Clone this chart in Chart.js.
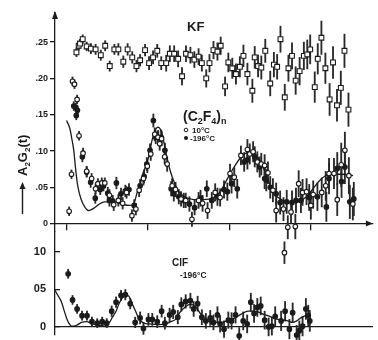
<!DOCTYPE html>
<html>
<head>
<meta charset="utf-8">
<script src="https://cdn.jsdelivr.net/npm/chart.js@4.4.1/dist/chart.umd.min.js"></script>
<style>
  html, body { margin: 0; padding: 0; background: #fff; }
  .chart-box { position: relative; width: 378px; height: 340px; }
</style>
</head>
<body>
<div class="chart-box"><canvas id="chart"></canvas></div>
<script>
// time axis is unlabeled in the figure; one tick every 10 units
const xTicks = [0, 10, 20, 30];
const topTicks = [0, 0.05, 0.10, 0.15, 0.20, 0.25];
const bottomTicks = [0, 0.05, 0.10];

// KF (open squares)
const kfX = [
  1.18, 1.46, 1.62, 1.95, 2.44, 2.96, 3.54, 4.18, 4.72, 5.28,
  5.85, 6.34, 6.95, 7.48, 8.05, 8.57, 9.02, 9.63, 10.12, 10.61,
  11.13, 11.62, 12.23, 12.68, 13.21, 13.70, 14.18, 14.67, 15.21, 15.70,
  16.22, 16.62, 17.16, 17.56, 18.05, 18.54, 18.94, 19.48, 19.88, 20.37,
  20.82, 21.30, 21.74, 22.23, 22.84, 23.13, 23.54, 23.94, 24.43, 25.04,
  25.49, 25.89, 26.30, 26.83, 27.28, 27.72, 28.17, 28.66, 29.18, 29.60,
  29.96, 30.52, 30.89, 31.34, 31.83, 32.35, 32.77, 33.26, 33.73, 34.18,
  34.67
];
const kfY = [
  .236, .245, .248, .254, .244, .241, .240, .232, .245, .217,
  .240, .240, .223, .240, .229, .217, .225, .239, .221, .229,
  .238, .221, .221, .234, .234, .227, .203, .234, .232, .226,
  .230, .221, .200, .221, .239, .237, .245, .189, .222, .214,
  .206, .216, .231, .206, .183, .229, .217, .215, .238, .193,
  .219, .216, .254, .174, .214, .231, .197, .210, .231, .233,
  .240, .188, .227, .256, .214, .171, .222, .163, .187, .238,
  .157
];
const kfErr = [
  .006, .006, .006, .006, .006, .007, .007, .007, .007, .007,
  .007, .008, .008, .008, .008, .008, .008, .008, .009, .009,
  .009, .009, .011, .011, .011, .011, .012, .011, .011, .011,
  .011, .011, .012, .012, .012, .012, .012, .013, .013, .014,
  .014, .014, .015, .015, .016, .015, .015, .016, .016, .017,
  .017, .017, .018, .018, .018, .018, .019, .019, .019, .020,
  .020, .021, .021, .023, .021, .022, .022, .022, .023, .023,
  .023
];

// (C2F4)n at 10 C (open circles)
const warmX = [
  0.28, 0.57, 0.70, 0.94, 1.26, 1.50, 1.99, 2.44, 3.05, 3.54,
  3.82, 4.30, 4.67, 5.24, 5.77, 6.34, 6.87, 7.35, 8.01, 8.50,
  8.90, 9.43, 9.91, 10.33, 10.82, 11.22, 11.43, 11.67, 12.04, 12.35,
  12.96, 13.38, 14.06, 14.63, 15.40, 16.22, 16.71, 17.32, 18.26, 18.87,
  20.09, 20.61, 21.43, 22.23, 22.52, 22.93, 23.45, 23.94, 24.35, 24.76,
  25.37, 25.77, 26.67, 26.79, 27.20, 27.60, 28.13, 28.54, 29.02, 29.51,
  30.04, 30.33, 31.38, 31.87, 32.28, 32.89, 33.29, 33.78, 34.23, 34.72,
  35.21
];
const warmY = [
  .017, .068, .196, .192, .171, .121, .097, .072, .062, .048,
  .055, .056, .056, .039, .026, .032, .028, .043, .011, .020,
  .046, .062, .079, .096, .123, .119, .110, .117, .092, .082,
  .052, .047, .034, .032, .006, .032, .028, .018, .043, .036,
  .069, .064, .094, .102, .096, .099, .085, .082, .080, .070,
  .046, .018, .020, -.040, -.005, .016, -.004, .055, .043, .044,
  .025, .040, .043, .052, .069, .069, .033, .081, .101, .066,
  .027
];
const warmErr = [
  .006, .006, .006, .006, .006, .006, .007, .007, .007, .007,
  .007, .007, .007, .008, .008, .008, .008, .008, .008, .008,
  .009, .009, .009, .009, .009, .009, .009, .010, .010, .010,
  .010, .010, .010, .010, .010, .011, .011, .011, .012, .012,
  .013, .013, .013, .014, .014, .014, .014, .015, .015, .015,
  .016, .016, .016, .015, .016, .016, .017, .018, .018, .018,
  .019, .019, .020, .020, .021, .021, .022, .030, .025, .025,
  .022
];

// (C2F4)n at -196 C (filled circles)
const coldX = [
  0.85, 1.10, 1.16, 1.30, 1.91, 2.44, 2.93, 3.50, 4.11, 4.51,
  5.04, 5.24, 5.65, 6.10, 6.67, 7.20, 7.65, 8.29, 9.02, 9.51,
  9.84, 10.24, 10.65, 10.94, 11.26, 11.62, 12.07, 12.84, 13.17, 13.78,
  14.39, 15.09, 15.73, 16.46, 17.23, 17.84, 18.54, 19.35, 19.76, 20.28,
  20.98, 21.83, 22.23, 23.13, 23.74, 24.35, 24.55, 25.04, 25.77, 26.26,
  27.07, 27.72, 28.21, 28.82, 29.84, 30.85, 31.95, 32.28, 33.29, 33.82,
  34.23, 34.84, 35.33
];
const coldY = [
  .162, .160, .149, .156, .092, .071, .057, .035, .047, .052,
  .042, .032, .031, .056, .041, .045, .047, .025, .052, .065,
  .082, .101, .142, .119, .119, .119, .101, .048, .041, .037,
  .032, .027, .022, .035, .048, .032, .037, .047, .044, .055,
  .048, .085, .088, .092, .078, .062, .060, .050, .041, .029,
  .030, .029, .032, .032, .036, .037, .023, .062, .076, .058,
  .078, .030, .034
];
const coldErr = [
  .006, .006, .006, .006, .007, .007, .007, .007, .007, .007,
  .008, .008, .008, .008, .008, .008, .008, .008, .009, .009,
  .009, .009, .009, .009, .009, .010, .010, .010, .010, .010,
  .010, .010, .010, .011, .011, .011, .012, .012, .012, .013,
  .013, .013, .013, .014, .014, .014, .015, .015, .015, .016,
  .016, .016, .017, .017, .018, .019, .020, .021, .022, .022,
  .023, .023, .023
];

// fitted curve through (C2F4)n
const fitX = [
  -0.04, 0.37, 0.61, 0.85, 1.10, 1.34, 1.71, 2.20, 2.68, 3.29,
  4.02, 4.63, 5.24, 5.85, 6.46, 7.07, 7.68, 8.17, 8.66, 9.15,
  9.63, 10.12, 10.49, 10.85, 11.22, 11.59, 11.95, 12.32, 12.80, 13.29,
  13.78, 14.51, 15.61, 16.83, 18.05, 18.90, 19.63, 20.49, 21.34, 22.07,
  22.80, 23.54, 24.27, 25.00, 25.73, 26.59, 27.44, 28.41, 29.39, 30.24,
  31.10, 31.83, 32.68, 33.90, 35.24
];
const fitY = [
  .142, .131, .117, .101, .073, .052, .035, .023, .018, .021,
  .027, .030, .030, .030, .028, .026, .025, .026, .043, .059,
  .077, .094, .115, .128, .133, .128, .112, .091, .070, .055,
  .044, .037, .033, .033, .036, .044, .059, .076, .090, .097,
  .098, .091, .075, .054, .039, .032, .029, .030, .036, .047,
  .059, .066, .068, .068, .066
];

// ClF at -196 C (lower panel)
const clfX = [
  0.16, 0.70, 1.26, 1.87, 2.48, 3.09, 3.74, 4.35, 4.91, 5.52,
  6.06, 6.67, 7.20, 7.80, 8.41, 9.02, 9.43, 10.04, 10.52, 11.13,
  11.67, 12.07, 12.65, 13.09, 13.66, 14.09, 14.63, 15.21, 15.61, 16.10,
  16.62, 17.11, 17.65, 18.05, 18.54, 18.87, 19.35, 19.88, 20.28, 20.77,
  21.22, 21.71, 22.20, 22.65, 23.05, 23.45, 23.87, 24.35, 24.84, 25.24,
  25.65, 26.38, 26.87, 27.40, 27.80, 28.29, 28.62, 29.02, 29.43, 29.72,
  29.91
];
const clfY = [
  .071, .036, .024, .015, .015, .007, .005, .007, .005, .021,
  .033, .042, .043, .031, .006, .012, -.002, .010, .010, .007,
  .021, .005, .016, .020, .013, .030, .034, .035, .024, .031,
  .013, .008, .012, .006, .016, .004, -.003, .009, .008, .016,
  -.012, .008, .004, .033, .018, .026, .028, .009, .000, .001,
  .014, .008, .021, -.003, .019, -.011, -.005, .001, .024, .015,
  .008
];
const clfErr = [
  .006, .006, .006, .006, .006, .006, .006, .006, .006, .007,
  .007, .007, .007, .007, .007, .008, .008, .008, .008, .008,
  .008, .008, .009, .009, .009, .009, .009, .010, .010, .010,
  .010, .010, .010, .010, .011, .011, .011, .011, .011, .011,
  .012, .012, .012, .012, .012, .012, .012, .012, .012, .012,
  .013, .013, .013, .013, .013, .013, .013, .013, .014, .014,
  .014
];
const clfFitX = [
  -1.46, -1.10, -0.65, -0.37, -0.04, 0.24, 0.57, 0.85, 1.34, 1.79,
  2.40, 3.21, 4.02, 4.76, 5.24, 5.61, 6.06, 6.46, 6.87, 7.20,
  7.48, 7.80, 8.09, 8.54, 8.90, 9.51, 10.12, 11.34, 12.16, 12.80,
  13.38, 13.90, 14.60, 15.21, 15.85, 16.62, 17.20, 17.84, 19.06, 19.88,
  20.70, 21.46, 22.32, 22.93, 23.54, 24.15, 24.76, 25.98, 27.20, 27.80,
  28.29, 28.82, 29.39, 29.84
];
const clfFitY = [
  .049, .042, .033, .023, .012, .005, .001, .001, .003, .006,
  .007, .004, .002, .003, .006, .013, .021, .032, .039, .042,
  .042, .038, .030, .019, .010, .005, .004, .003, .004, .007,
  .010, .019, .027, .030, .027, .015, .009, .006, .006, .009,
  .012, .017, .021, .021, .020, .017, .015, .010, .008, .006,
  .008, .012, .015, .017
];

const INK = '#1b1b1b';
const FONT = '"Liberation Sans", Arial, sans-serif';

const pts = (xs, ys) => xs.map((x, i) => ({ x, y: ys[i] }));
const errBars = (xs, ys, es) => xs.map((x, i) => ({ x, y: [ys[i] - es[i], ys[i] + es[i]] }));

function errorSet(xs, ys, es, yAxisID) {
  return {
    type: 'bar', data: errBars(xs, ys, es), yAxisID, xAxisID: 'x',
    backgroundColor: '#2a2a2a', borderWidth: 0, barThickness: 1.2,
    grouped: false, clip: false, order: 2
  };
}
function markerSet(xs, ys, yAxisID, style, radius, fill) {
  return {
    type: 'scatter', data: pts(xs, ys), yAxisID, xAxisID: 'x',
    pointStyle: style, pointRadius: radius, pointBorderWidth: 1.1,
    pointBorderColor: INK, pointBackgroundColor: fill, clip: false, order: 0
  };
}
function fitSet(xs, ys, yAxisID) {
  return {
    type: 'line', data: pts(xs, ys), yAxisID, xAxisID: 'x',
    borderColor: INK, borderWidth: 1.3, pointRadius: 0,
    cubicInterpolationMode: 'monotone', fill: false, clip: false, order: 1
  };
}

// rich text with subscripts: parts = [[text, isSub], ...]
function drawRich(ctx, parts, x, y, size) {
  let cx = x;
  parts.forEach(([t, sub]) => {
    const s = sub ? Math.round(size * 0.62) : size;
    ctx.font = `bold ${s}px ${FONT}`;
    ctx.fillText(t, cx, sub ? y + size * 0.22 : y);
    cx += ctx.measureText(t).width;
  });
}

const figureText = {
  id: 'figureText',
  afterDraw(chart) {
    const { ctx, chartArea: area } = chart;
    const zeroTop = chart.scales.yTop.getPixelForValue(0);
    ctx.save();
    ctx.fillStyle = INK;
    ctx.strokeStyle = INK;
    ctx.textBaseline = 'alphabetic';

    // axis arrowheads
    ctx.beginPath();
    ctx.moveTo(area.right, zeroTop);
    ctx.lineTo(area.right - 7, zeroTop - 3);
    ctx.lineTo(area.right - 7, zeroTop + 3);
    ctx.closePath();
    ctx.fill();
    ctx.beginPath();
    ctx.moveTo(area.left, area.top - 2);
    ctx.lineTo(area.left - 3, area.top + 6);
    ctx.lineTo(area.left + 3, area.top + 6);
    ctx.closePath();
    ctx.fill();

    // panel labels
    ctx.font = `bold 13px ${FONT}`;
    ctx.fillText('KF', 187, 31);
    drawRich(ctx, [['(C', false], ['2', true], ['F', false], ['4', true], [')', false], ['n', true]], 183, 121, 14);

    ctx.font = `bold 8px ${FONT}`;
    ctx.fillText('10°C', 192, 133);
    ctx.fillText('-196°C', 190, 141);
    ctx.lineWidth = 1;
    ctx.beginPath();
    ctx.arc(186, 130, 1.8, 0, Math.PI * 2);
    ctx.stroke();
    ctx.beginPath();
    ctx.arc(186, 138, 2, 0, Math.PI * 2);
    ctx.fill();

    ctx.font = `bold 10px ${FONT}`;
    ctx.fillText('ClF', 172, 266);
    ctx.font = `bold 8.5px ${FONT}`;
    ctx.fillText('-196°C', 180, 278);

    // rotated y title with arrow
    ctx.translate(22, 214);
    ctx.rotate(-Math.PI / 2);
    ctx.lineWidth = 1.4;
    ctx.beginPath();
    ctx.moveTo(0, 0.5);
    ctx.lineTo(26, 0.5);
    ctx.stroke();
    ctx.beginPath();
    ctx.moveTo(32, 0.5);
    ctx.lineTo(25, -2.5);
    ctx.lineTo(25, 3.5);
    ctx.closePath();
    ctx.fill();
    drawRich(ctx, [['A', false], ['2', true], ['G', false], ['2', true], ['(t)', false]], 38, 5, 13);
    ctx.restore();
  }
};

const X_MIN = -1.46, X_MAX = 37.68;

const fixedWidth = s => { s.width = 55; s.paddingTop = 0; s.paddingBottom = 0; };

new Chart(document.getElementById('chart'), {
  type: 'scatter',
  data: {
    datasets: [
      errorSet(kfX, kfY, kfErr, 'yTop'),
      errorSet(warmX, warmY, warmErr, 'yTop'),
      errorSet(coldX, coldY, coldErr, 'yTop'),
      errorSet(clfX, clfY, clfErr, 'yBot'),
      fitSet(fitX, fitY, 'yTop'),
      fitSet(clfFitX, clfFitY, 'yBot'),
      markerSet(kfX, kfY, 'yTop', 'rect', 3.4, '#fff'),
      markerSet(warmX, warmY, 'yTop', 'circle', 2.3, '#fff'),
      markerSet(coldX, coldY, 'yTop', 'circle', 2.3, INK),
      markerSet(clfX, clfY, 'yBot', 'circle', 2.3, INK)
    ]
  },
  options: {
    responsive: true,
    maintainAspectRatio: false,
    animation: false,
    events: [],
    layout: { padding: { top: 13, right: 2, bottom: 0, left: 0 } },
    plugins: { legend: { display: false }, tooltip: { enabled: false } },
    scales: {
      x: {
        type: 'linear', axis: 'x', min: X_MIN, max: X_MAX, offset: false,
        position: { yTop: 0 },
        border: { color: INK, width: 1.3 },
        grid: { offset: false, drawOnChartArea: false, tickLength: 6, color: INK, lineWidth: 1.3 },
        ticks: { display: false },
        afterBuildTicks: s => { s.ticks = xTicks.map(v => ({ value: v })); }
      },
      x2: {
        type: 'linear', axis: 'x', min: X_MIN, max: X_MAX, offset: false,
        position: { yBot: 0 },
        border: { color: INK, width: 1.2 },
        grid: { offset: false, drawOnChartArea: false, drawTicks: false },
        ticks: { display: false }
      },
      yBot: {
        type: 'linear', position: 'left', stack: 'panels', stackWeight: 103,
        min: -0.0107, max: 0.1273,
        border: { color: INK, width: 1.3 },
        grid: { drawOnChartArea: false, tickLength: -5, color: INK, lineWidth: 1.3 },
        ticks: {
          color: INK, padding: 14, font: { family: FONT, size: 11, weight: 'bold' },
          callback: v => v === 0 ? '0' : v.toFixed(2).slice(2)
        },
        afterBuildTicks: s => { s.ticks = bottomTicks.map(v => ({ value: v })); },
        afterFit: fixedWidth
      },
      yTop: {
        type: 'linear', position: 'left', stack: 'panels', stackWeight: 218,
        min: -0.0110, max: 0.2901,
        border: { color: INK, width: 1.3 },
        grid: { drawOnChartArea: false, tickLength: 5, color: INK, lineWidth: 1.3 },
        ticks: {
          color: INK, padding: 2, font: { family: FONT, size: 9, weight: 'bold' },
          callback: v => v === 0 ? '0' : v.toFixed(2).slice(1)
        },
        afterBuildTicks: s => { s.ticks = topTicks.map(v => ({ value: v })); },
        afterFit: fixedWidth
      }
    }
  },
  plugins: [figureText]
});
</script>
</body>
</html>
